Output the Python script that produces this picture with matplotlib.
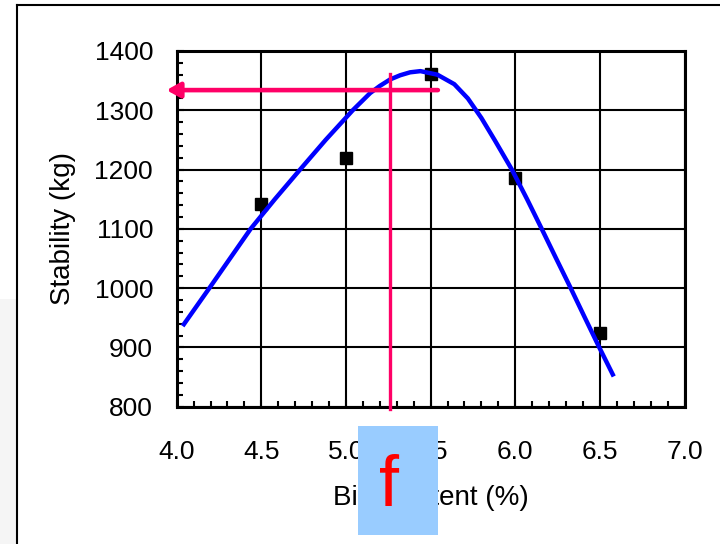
import matplotlib
matplotlib.use("Agg")
import matplotlib.pyplot as plt
from matplotlib.patches import Rectangle
from matplotlib.lines import Line2D
from matplotlib.ticker import MultipleLocator, FormatStrFormatter

# measured points
bitumen = [4.5, 5.0, 5.5, 6.0, 6.5]
stability = [1142, 1219, 1362, 1185, 924]

# fitted curve
fit_content = [4.035, 4.193, 4.31, 4.437, 4.58, 4.729, 4.88, 5.04, 5.143,
               5.20, 5.261, 5.32, 5.379, 5.44, 5.54, 5.64, 5.72, 5.80, 5.88,
               5.98, 6.07, 6.153, 6.24, 6.326, 6.41, 6.493, 6.582]
fit_stability = [936, 1000, 1048, 1100, 1150, 1200, 1250, 1300, 1329,
                 1341, 1352, 1359, 1364, 1366, 1360, 1344, 1320, 1287, 1249,
                 1200, 1150, 1102, 1051, 1001, 951, 902, 851]

# optimum read-out lines
opt_content = 5.26
opt_stability = 1334
arrow_start = 5.543
arrow_end = 3.94
vline_bottom = 796
vline_top = 1361

pink = "#FF0066"
plt.rcParams['font.family'] = ['Liberation Sans', 'DejaVu Sans']

fig = plt.figure(figsize=(7.2, 5.44), dpi=100)
ax = fig.add_axes([0.2454, 0.2524, 0.7053, 0.6539])

ax.set_xlim(4.0, 7.0)
ax.set_ylim(800, 1400)
ax.xaxis.set_major_locator(MultipleLocator(0.5))
ax.xaxis.set_minor_locator(MultipleLocator(0.1))
ax.yaxis.set_major_locator(MultipleLocator(100))
ax.yaxis.set_minor_locator(MultipleLocator(20))
ax.xaxis.set_major_formatter(FormatStrFormatter('%.1f'))

ax.grid(True, which='major', color='black', linewidth=1.5)
ax.set_axisbelow(True)
for s in ax.spines.values():
    s.set_linewidth(2.2)
ax.tick_params(axis='both', which='major', direction='in', length=5, width=1.5,
               labelsize=19, top=False, right=False)
ax.tick_params(axis='both', which='minor', direction='in', length=4.5, width=1.5,
               top=False, right=False)
ax.tick_params(axis='x', which='major', pad=24)
ax.tick_params(axis='y', which='major', pad=17)

ax.plot(bitumen, stability, linestyle='none', marker='s', markersize=8.5,
        color='black', zorder=3)
ax.plot(fit_content, fit_stability, color='#0000FF', linewidth=3.2,
        solid_capstyle='butt', solid_joinstyle='round', zorder=4)

# optimum content / stability read-out
ax.plot([opt_content, opt_content], [vline_bottom, vline_top], color=pink,
        linewidth=2.4, clip_on=False, zorder=5)
ax.annotate('', xy=(arrow_end, opt_stability), xytext=(arrow_start, opt_stability),
            annotation_clip=False,
            arrowprops=dict(arrowstyle='-|>,head_length=0.8,head_width=0.45',
                            color=pink, lw=3.3, shrinkA=0, shrinkB=0,
                            mutation_scale=10),
            zorder=5)

ax.set_xlabel('Bit. Content (%)', fontsize=20, labelpad=15)
ax.set_ylabel('Stability (kg)', fontsize=20, labelpad=13)

# outer frame and grey edge
fig.add_artist(Rectangle((0, 0), 0.022, 0.45, transform=fig.transFigure,
                         facecolor='#F5F5F5', edgecolor='none', zorder=0))
fig.add_artist(Line2D([0.0232, 0.0232], [0, 0.9914], transform=fig.transFigure,
                      color='black', linewidth=1.5))
fig.add_artist(Line2D([0.0232, 1.0], [0.9914, 0.9914], transform=fig.transFigure,
                      color='black', linewidth=1.5))

# blue patch with red "f" over the x label
fig.add_artist(Rectangle((357.7 / 720, 1 - 535 / 544), 80 / 720, 109 / 544,
                         transform=fig.transFigure, facecolor='#99CCFF',
                         edgecolor='none', zorder=10))
fig.text(389 / 720, 1 - 506 / 544, 'f', color='#FF0000', fontsize=52,
         ha='center', va='baseline', zorder=11)

fig.savefig('out.png', dpi=100)
